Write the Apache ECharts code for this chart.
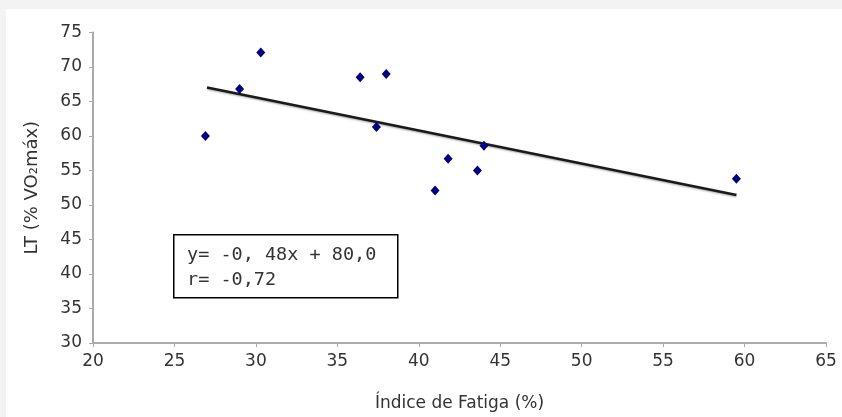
<!DOCTYPE html>
<html>
<head>
<meta charset="utf-8">
<script src="https://cdn.jsdelivr.net/npm/echarts@6/dist/echarts.min.js"></script>
<style>
html,body{margin:0;padding:0;background:#f3f3f3;width:842px;height:417px;overflow:hidden;}
#c{position:absolute;left:6px;top:9px;width:836px;height:408px;background:#fff;}
</style>
</head>
<body>
<div id="c"></div>
<script>
const fatigueIndex = [26.9, 29.0, 30.3, 36.4, 38.0, 37.4, 44.0, 41.8, 43.6, 41.0, 59.5];
const lactateThreshold = [60.0, 66.8, 72.1, 68.5, 69.0, 61.3, 58.6, 56.7, 55.0, 52.1, 53.8];
const trendSlope = -0.48;
const trendIntercept = 80.0;
const trendRange = [27.0, 59.5];
const xTicks = [20, 25, 30, 35, 40, 45, 50, 55, 60, 65];
const yTicks = [30, 35, 40, 45, 50, 55, 60, 65, 70, 75];
const eqLines = ['y= -0, 48x + 80,0', 'r= -0,72'];

const points = fatigueIndex.map((x, i) => [x, lactateThreshold[i]]);
const trend = trendRange.map(x => [x, trendIntercept + trendSlope * x]);

const chart = echarts.init(document.getElementById('c'));
const axisFont = {fontFamily: 'DejaVu Sans', fontSize: 17, color: '#333'};
chart.setOption({
  animation: false,
  grid: {left: 87, top: 23.5, right: 16, bottom: 74, containLabel: false},
  xAxis: {
    type: 'value', min: xTicks[0], max: xTicks[xTicks.length - 1], interval: 5,
    name: 'Índice de Fatiga (%)', nameLocation: 'middle', nameGap: 52,
    nameTextStyle: {fontFamily: 'DejaVu Sans', fontSize: 17, color: '#333'},
    axisLine: {show: true, lineStyle: {color: '#aaa', width: 2}},
    axisTick: {show: true, length: 4, lineStyle: {color: '#aaa', width: 1}},
    axisLabel: Object.assign({margin: 10}, axisFont),
    splitLine: {show: false}
  },
  yAxis: {
    type: 'value', min: yTicks[0], max: yTicks[yTicks.length - 1], interval: 5,
    name: 'LT (% VO₂máx)', nameLocation: 'middle', nameGap: 52, nameRotate: 90,
    nameTextStyle: {fontFamily: 'DejaVu Sans', fontSize: 18, color: '#333'},
    axisLine: {show: true, lineStyle: {color: '#aaa', width: 2}},
    axisTick: {show: true, length: 4, lineStyle: {color: '#aaa', width: 1}},
    axisLabel: Object.assign({margin: 11}, axisFont),
    splitLine: {show: false}
  },
  series: [
    {
      type: 'line', data: trend, symbol: 'none', z: 2,
      lineStyle: {color: '#1a1a1a', width: 2.5, shadowColor: 'rgba(0,0,0,0.35)', shadowBlur: 2, shadowOffsetY: 1}
    },
    {
      type: 'scatter', data: points, symbol: 'diamond', symbolSize: [9, 10], z: 3,
      itemStyle: {color: '#000080', opacity: 1}
    }
  ],
  graphic: [
    {type: 'rect', left: 167, top: 225, shape: {width: 224, height: 63},
     style: {fill: '#fff', stroke: '#000', lineWidth: 1.5}, z: 10},
    {type: 'text', left: 181, top: 234,
     style: {text: eqLines.join('\n'), fontFamily: 'DejaVu Sans Mono', fontSize: 18.5, lineHeight: 25, fill: '#333'}, z: 11}
  ]
});
</script>
</body>
</html>
